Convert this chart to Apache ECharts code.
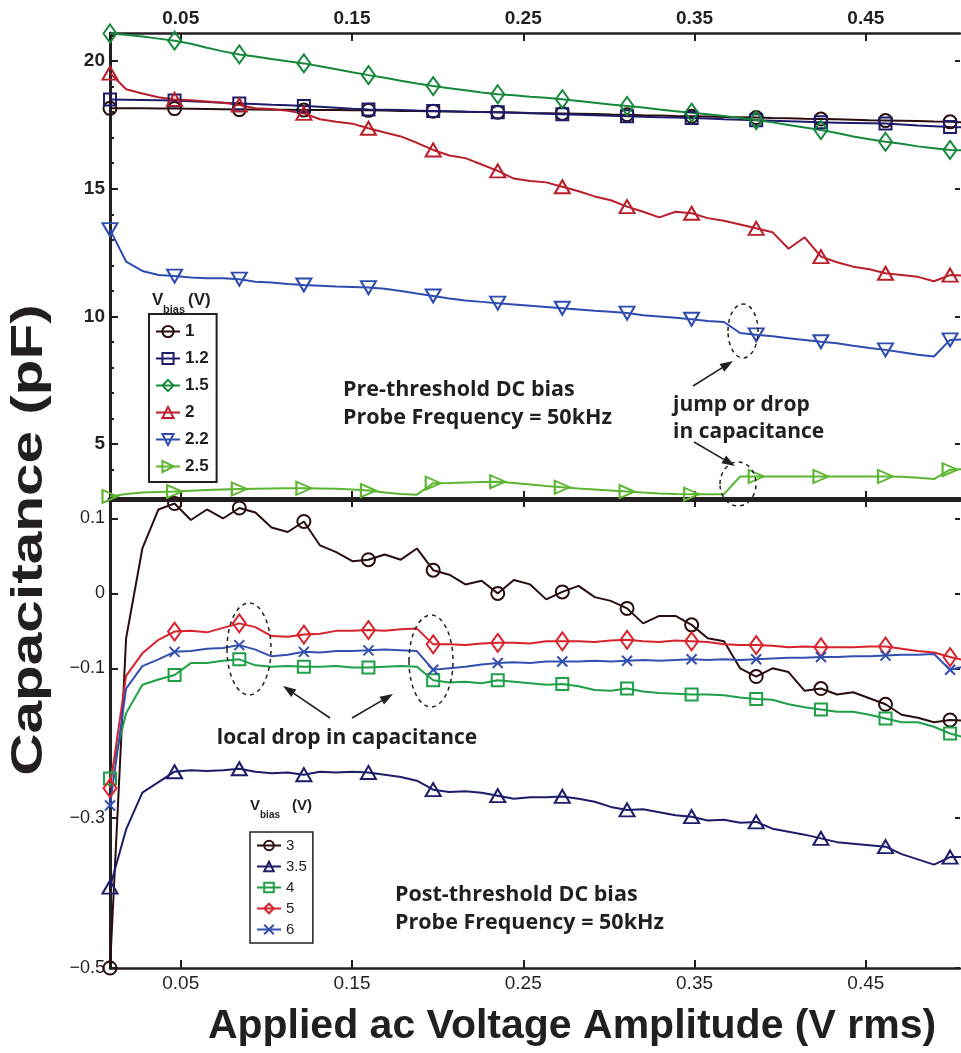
<!DOCTYPE html>
<html>
<head>
<meta charset="utf-8">
<script src="https://cdn.jsdelivr.net/npm/echarts@6/dist/echarts.min.js"></script>
<style>
html,body{margin:0;padding:0;background:#fff;}
#chart{width:961px;height:1053px;}
</style>
</head>
<body>
<div id="chart"></div>
<script>
// ---------- data ----------
// applied ac voltage amplitude (V rms) sample positions
const X = [0.0087,0.0181,0.0276,0.0370,0.0464,0.0559,0.0653,0.0747,0.0842,0.0936,0.1030,0.1125,0.1219,0.1313,0.1408,0.1502,0.1596,0.1691,0.1785,0.1879,0.1974,0.2068,0.2162,0.2257,0.2351,0.2445,0.2540,0.2634,0.2728,0.2823,0.2917,0.3011,0.3106,0.3200,0.3294,0.3389,0.3483,0.3577,0.3672,0.3766,0.3860,0.3955,0.4049,0.4143,0.4238,0.4332,0.4426,0.4521,0.4615,0.4709,0.4804,0.4898,0.4992,0.5087];

// Pre-threshold (capacitance, pF)
const C_1   = [18.15,18.15,18.15,18.14,18.14,18.13,18.12,18.11,18.10,18.10,18.09,18.09,18.08,18.08,18.08,18.07,18.07,18.06,18.05,18.05,18.04,18.03,18.02,18.01,18.00,17.99,17.97,17.96,17.95,17.94,17.93,17.91,17.90,17.88,17.87,17.85,17.84,17.83,17.81,17.80,17.79,17.77,17.76,17.74,17.73,17.72,17.70,17.68,17.67,17.66,17.65,17.63,17.62,17.60];
const C_1_2 = [18.50,18.49,18.48,18.47,18.46,18.43,18.40,18.37,18.34,18.32,18.29,18.27,18.24,18.21,18.17,18.13,18.10,18.09,18.08,18.06,18.05,18.04,18.02,18.01,18.00,17.98,17.96,17.94,17.92,17.90,17.88,17.86,17.84,17.82,17.80,17.79,17.77,17.75,17.72,17.70,17.68,17.66,17.64,17.62,17.60,17.59,17.58,17.57,17.56,17.52,17.48,17.45,17.42,17.40];
const C_1_5 = [21.08,21.03,20.96,20.88,20.80,20.68,20.52,20.38,20.26,20.18,20.08,19.99,19.91,19.80,19.68,19.56,19.45,19.35,19.23,19.12,19.02,18.94,18.86,18.77,18.70,18.66,18.60,18.56,18.51,18.44,18.37,18.30,18.24,18.18,18.10,18.04,17.98,17.92,17.85,17.77,17.69,17.60,17.50,17.40,17.30,17.18,17.05,16.94,16.84,16.76,16.66,16.59,16.52,16.50];
const C_2   = [19.53,18.90,18.73,18.58,18.50,18.47,18.42,18.37,18.28,18.15,18.12,18.05,17.95,17.72,17.62,17.55,17.37,17.20,17.05,16.80,16.52,16.30,16.20,15.95,15.70,15.40,15.30,15.25,15.08,14.90,14.70,14.55,14.30,14.10,13.88,14.10,14.04,13.85,13.75,13.60,13.45,13.30,12.65,13.10,12.34,12.12,11.95,11.85,11.69,11.62,11.55,11.38,11.62,11.60];
const C_2_2 = [13.40,12.15,11.78,11.62,11.58,11.52,11.50,11.50,11.46,11.36,11.33,11.27,11.23,11.20,11.17,11.15,11.13,11.08,11.00,10.90,10.80,10.70,10.62,10.57,10.52,10.47,10.42,10.37,10.32,10.27,10.22,10.18,10.13,10.05,10.00,9.95,9.89,9.82,9.78,9.35,9.28,9.22,9.15,9.08,9.01,8.95,8.85,8.76,8.69,8.60,8.50,8.43,9.08,9.10];
const C_2_5 = [2.95,3.05,3.10,3.12,3.14,3.17,3.20,3.22,3.24,3.25,3.26,3.27,3.27,3.26,3.25,3.22,3.18,3.10,3.05,3.02,3.47,3.48,3.50,3.52,3.53,3.48,3.42,3.36,3.31,3.26,3.22,3.18,3.14,3.10,3.07,3.05,3.04,3.04,3.04,3.73,3.73,3.73,3.73,3.73,3.73,3.73,3.73,3.73,3.73,3.72,3.68,3.63,4.00,4.02];

// Post-threshold (capacitance, pF)
const C_3   = [-0.500,-0.060,0.060,0.112,0.120,0.098,0.112,0.100,0.114,0.108,0.088,0.082,0.096,0.064,0.055,0.043,0.045,0.052,0.045,0.060,0.031,0.025,0.012,0.017,0.000,0.018,0.012,-0.008,0.002,0.010,-0.005,-0.010,-0.020,-0.040,-0.030,-0.030,-0.042,-0.060,-0.064,-0.100,-0.111,-0.100,-0.105,-0.130,-0.127,-0.135,-0.132,-0.140,-0.148,-0.162,-0.166,-0.172,-0.169,-0.170];
const C_3_5 = [-0.392,-0.315,-0.266,-0.252,-0.238,-0.236,-0.237,-0.236,-0.234,-0.238,-0.240,-0.239,-0.242,-0.238,-0.239,-0.238,-0.239,-0.242,-0.245,-0.250,-0.262,-0.265,-0.264,-0.266,-0.270,-0.274,-0.272,-0.272,-0.271,-0.274,-0.278,-0.285,-0.289,-0.288,-0.292,-0.296,-0.298,-0.303,-0.302,-0.306,-0.305,-0.314,-0.318,-0.322,-0.327,-0.332,-0.334,-0.336,-0.338,-0.348,-0.355,-0.362,-0.352,-0.352];
const C_4   = [-0.247,-0.160,-0.122,-0.115,-0.109,-0.093,-0.093,-0.090,-0.088,-0.096,-0.098,-0.097,-0.098,-0.098,-0.097,-0.099,-0.099,-0.098,-0.097,-0.098,-0.116,-0.119,-0.118,-0.120,-0.116,-0.118,-0.120,-0.122,-0.121,-0.124,-0.129,-0.130,-0.127,-0.131,-0.133,-0.134,-0.135,-0.135,-0.136,-0.139,-0.141,-0.142,-0.148,-0.152,-0.155,-0.158,-0.158,-0.162,-0.167,-0.172,-0.172,-0.178,-0.187,-0.193];
const C_5   = [-0.260,-0.110,-0.080,-0.062,-0.051,-0.050,-0.052,-0.046,-0.040,-0.045,-0.057,-0.058,-0.055,-0.054,-0.050,-0.050,-0.049,-0.050,-0.048,-0.047,-0.068,-0.068,-0.069,-0.067,-0.066,-0.066,-0.067,-0.064,-0.064,-0.064,-0.065,-0.063,-0.062,-0.064,-0.065,-0.063,-0.064,-0.065,-0.068,-0.069,-0.069,-0.070,-0.072,-0.071,-0.072,-0.072,-0.072,-0.071,-0.071,-0.074,-0.077,-0.079,-0.085,-0.090];
const C_6   = [-0.283,-0.127,-0.097,-0.088,-0.078,-0.077,-0.074,-0.073,-0.069,-0.075,-0.084,-0.082,-0.078,-0.079,-0.077,-0.077,-0.076,-0.075,-0.076,-0.077,-0.102,-0.100,-0.098,-0.095,-0.093,-0.092,-0.093,-0.091,-0.091,-0.091,-0.090,-0.091,-0.090,-0.089,-0.090,-0.089,-0.088,-0.089,-0.088,-0.089,-0.088,-0.087,-0.086,-0.086,-0.085,-0.085,-0.084,-0.084,-0.083,-0.082,-0.082,-0.081,-0.102,-0.097];

// tick labels
const X_TICKS = [0.05, 0.15, 0.25, 0.35, 0.45];
const Y_TOP_TICKS = [5, 10, 15, 20];
const Y_TOP_MINOR = [3,4,6,7,8,9,11,12,13,14,16,17,18,19,21];
const Y_BOT_TICKS = [-0.5, -0.3, -0.1, 0, 0.1];

const TOP_NAMES = ['1','1.2','1.5','2','2.2','2.5'];
const BOT_NAMES = ['3','3.5','4','5','6'];

// ---------- styling ----------
const INK = '#231f20';
const FF = '"Liberation Sans", Arial, sans-serif';
const MARK_STEP = 4;
const CROSS = 'path://M0,0L10,10M10,0L0,10';

function pts(ys) {
  return ys.map((y, i) => (i % MARK_STEP === 0) ? [X[i], y] : { value: [X[i], y], symbol: 'none' });
}
function mk(name, ys, panel, color, symbol, size, rot) {
  return {
    name: name, type: 'line',
    xAxisIndex: panel === 0 ? 0 : 3,
    yAxisIndex: panel === 0 ? 0 : 3,
    data: pts(ys),
    symbol: symbol, symbolSize: size, symbolRotate: rot || 0,
    showAllSymbol: true,
    lineStyle: { color: color, width: 2 },
    itemStyle: { color: 'rgba(255,255,255,0)', borderColor: color, borderWidth: 2 },
    emphasis: { disabled: true },
    clip: true,
    animation: false
  };
}

const series = [
  mk(TOP_NAMES[0], C_1,   0, '#2b0d0d', 'circle', 13),
  mk(TOP_NAMES[1], C_1_2, 0, '#1c1c6b', 'rect', 12),
  mk(TOP_NAMES[2], C_1_5, 0, '#16883c', 'diamond', [13,18]),
  mk(TOP_NAMES[3], C_2,   0, '#b91f2a', 'triangle', [15,13]),
  mk(TOP_NAMES[4], C_2_2, 0, '#2e4cb0', 'triangle', [15,13], 180),
  mk(TOP_NAMES[5], C_2_5, 0, '#5cb631', 'triangle', [13,15], -90),
  mk(BOT_NAMES[0], C_3,   1, '#2b0d0d', 'circle', 13),
  mk(BOT_NAMES[1], C_3_5, 1, '#1c1c6b', 'triangle', [15,13]),
  mk(BOT_NAMES[2], C_4,   1, '#1e9f48', 'rect', 12),
  mk(BOT_NAMES[3], C_5,   1, '#d8222d', 'diamond', [13,18]),
  mk(BOT_NAMES[4], C_6,   1, '#3350b0', CROSS, 10)
];

const xBase = { type: 'value', min: 0.0087, max: 0.505, splitLine: { show: false } };
const tick = (len, vals) => ({ show: true, inside: true, length: len, customValues: vals, lineStyle: { color: INK, width: 2 } });
const fmtX = v => v.toFixed(2);
const fmtYB = v => v === 0 ? '0' : (v < 0 ? '\u2212' + Math.abs(v) : String(v));

const option = {
  backgroundColor: '#fff',
  animation: false,
  grid: [
    { left: 110, top: 33, width: 850, height: 466 },
    { left: 110, top: 499, width: 850, height: 469 }
  ],
  xAxis: [
    Object.assign({}, xBase, { gridIndex: 0, position: 'top',
      axisLine: { onZero: false, lineStyle: { color: INK, width: 2.5 } },
      axisTick: tick(8, X_TICKS),
      axisLabel: { customValues: X_TICKS, formatter: fmtX, fontFamily: FF, fontWeight: 'bold', fontSize: 19, color: INK, margin: 5 } }),
    Object.assign({}, xBase, { gridIndex: 0, position: 'bottom',
      axisLine: { onZero: false, lineStyle: { color: INK, width: 5 } },
      axisTick: tick(8, X_TICKS),
      axisLabel: { show: false } }),
    Object.assign({}, xBase, { gridIndex: 1, position: 'top',
      axisLine: { show: false, onZero: false },
      axisTick: tick(8, X_TICKS),
      axisLabel: { show: false } }),
    Object.assign({}, xBase, { gridIndex: 1, position: 'bottom',
      axisLine: { onZero: false, lineStyle: { color: INK, width: 2.5 } },
      axisTick: tick(8, X_TICKS),
      axisLabel: { customValues: X_TICKS, formatter: fmtX, fontFamily: FF, fontSize: 19, color: INK, margin: 6 } })
  ],
  yAxis: [
    { gridIndex: 0, type: 'value', min: 2.85, max: 21.1, position: 'left', splitLine: { show: false },
      axisLine: { show: true, onZero: false, lineStyle: { color: INK, width: 3 } },
      axisTick: tick(8, Y_TOP_TICKS),
      axisLabel: { customValues: Y_TOP_TICKS, fontFamily: FF, fontWeight: 'bold', fontSize: 19, color: INK, margin: 5 } },
    { gridIndex: 0, type: 'value', min: 2.85, max: 21.1, position: 'left', splitLine: { show: false },
      axisLine: { show: false, onZero: false },
      axisTick: tick(4, Y_TOP_MINOR),
      axisLabel: { show: false } },
    { gridIndex: 0, type: 'value', min: 2.85, max: 21.1, position: 'right', splitLine: { show: false },
      axisLine: { show: false, onZero: false },
      axisTick: tick(5, Y_TOP_TICKS),
      axisLabel: { show: false } },
    { gridIndex: 1, type: 'value', min: -0.5, max: 0.126, position: 'left', splitLine: { show: false },
      axisLine: { show: true, onZero: false, lineStyle: { color: INK, width: 3 } },
      axisTick: tick(8, Y_BOT_TICKS),
      axisLabel: { customValues: Y_BOT_TICKS, formatter: fmtYB, fontFamily: FF, fontSize: 18, color: INK, margin: 5 } },
    { gridIndex: 1, type: 'value', min: -0.5, max: 0.126, position: 'right', splitLine: { show: false },
      axisLine: { show: false, onZero: false },
      axisTick: tick(5, Y_BOT_TICKS),
      axisLabel: { show: false } }
  ],
  legend: [
    { data: TOP_NAMES, orient: 'vertical', left: 149, top: 314, padding: [9, 8, 7, 6],
      itemGap: 10, itemWidth: 24, itemHeight: 14, selectedMode: false,
      borderColor: INK, borderWidth: 2, backgroundColor: '#fff',
      textStyle: { fontFamily: FF, fontWeight: 'bold', fontSize: 17, color: INK } },
    { data: BOT_NAMES, orient: 'vertical', left: 250, top: 832, padding: [6, 6, 6, 6],
      itemGap: 6, itemWidth: 24, itemHeight: 12, selectedMode: false,
      borderColor: INK, borderWidth: 1.5, backgroundColor: '#fff',
      textStyle: { fontFamily: FF, fontSize: 15, color: INK } }
  ],
  series: series
};

// ---------- annotations ----------
function txt(x, y, s, font, align) {
  return { type: 'text', x: x, y: y, z: 100,
    style: { text: s, font: font, fill: INK, align: align || 'left', verticalAlign: 'middle' } };
}
function arrow(x1, y1, x2, y2) {
  const dx = x2 - x1, dy = y2 - y1, L = Math.sqrt(dx * dx + dy * dy);
  const ux = dx / L, uy = dy / L, hl = 13, hw = 4.5;
  const bx = x2 - ux * hl, by = y2 - uy * hl;
  return [
    { type: 'line', z: 100, shape: { x1: x1, y1: y1, x2: bx, y2: by }, style: { stroke: INK, lineWidth: 1.6 } },
    { type: 'polygon', z: 100, shape: { points: [[x2, y2], [bx - uy * hw, by + ux * hw], [bx + uy * hw, by - ux * hw]] }, style: { fill: INK } }
  ];
}
function ell(cx, cy, rx, ry) {
  return { type: 'ellipse', z: 100, shape: { cx: cx, cy: cy, rx: rx, ry: ry },
    style: { fill: null, stroke: INK, lineWidth: 1.5, lineDash: [4, 4] } };
}
const ANN = '"Open Sans", "Liberation Sans", sans-serif';
const graphic = [].concat(
  [
    // y-axis title (rotated, stretched along its length like the reference)
    { type: 'text', x: 30, y: 540, rotation: Math.PI / 2, scaleX: 1.33, z: 100,
      style: { text: 'Capacitance (pF)', font: 'bold 44px ' + FF, fill: INK, align: 'center', verticalAlign: 'middle' } },
    txt(572, 1027, 'Applied ac Voltage Amplitude (V rms)', 'bold 41px ' + FF, 'center'),
    // legend titles
    txt(152, 300, 'V', 'bold 17px ' + FF), txt(163, 310, 'bias', 'bold 11px ' + FF), txt(188, 300, '(V)', 'bold 17px ' + FF),
    txt(250, 806, 'V', 'bold 15px ' + FF), txt(260, 815, 'bias', 'bold 10px ' + FF), txt(292, 806, '(V)', 'bold 15px ' + FF),
    // notes
    txt(343, 390, 'Pre-threshold DC bias', 'bold 21.5px ' + ANN),
    txt(343, 418, 'Probe Frequency = 50kHz', 'bold 21.5px ' + ANN),
    txt(673, 405, 'jump or drop', 'bold 21px ' + ANN),
    txt(673, 432, 'in capacitance', 'bold 21px ' + ANN),
    txt(347, 738, 'local drop in capacitance', 'bold 21px ' + ANN, 'center'),
    txt(395, 895, 'Post-threshold DC bias', 'bold 21.5px ' + ANN),
    txt(395, 923, 'Probe Frequency = 50kHz', 'bold 21.5px ' + ANN),
    ell(743, 331, 15, 27), ell(738, 484, 18, 22),
    ell(249, 649, 22, 46), ell(431, 661, 22, 46)
  ],
  arrow(693, 386, 733, 361), arrow(694, 442, 735, 466),
  arrow(330, 718, 283, 686), arrow(352, 718, 393, 694)
);
option.graphic = { elements: graphic };

const chart = echarts.init(document.getElementById('chart'), null, { renderer: 'canvas' });
chart.setOption(option);
</script>
</body>
</html>
